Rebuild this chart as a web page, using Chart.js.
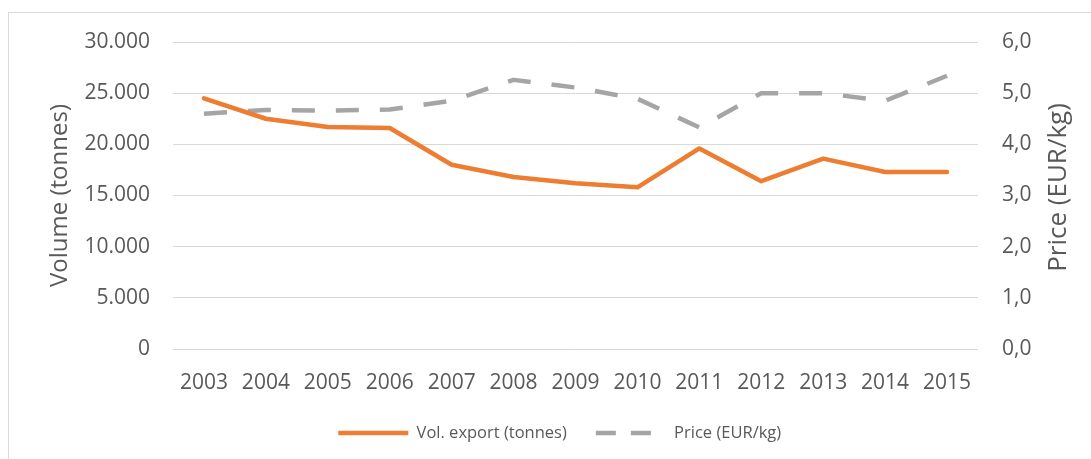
<!DOCTYPE html>
<html><head><meta charset="utf-8">
<script src="https://cdn.jsdelivr.net/npm/chart.js@4"></script>
<style>
html,body{margin:0;padding:0;background:#fff;overflow:hidden}
#wrap{position:relative;width:1091px;height:459px}
#frame{position:absolute;left:8px;top:12px;width:1200px;height:600px;border-left:1px solid #d9d9d9;border-top:1px solid #d9d9d9}
canvas{position:absolute;left:0;top:0}
</style></head><body>
<div id="wrap"><div id="frame"></div><canvas id="c" width="1091" height="459"></canvas></div>
<script>
const years = ['2003','2004','2005','2006','2007','2008','2009','2010','2011','2012','2013','2014','2015'];
const volumeExport = [24500, 22500, 21700, 21600, 18000, 16800, 16200, 15800, 19600, 16400, 18600, 17300, 17300];
const priceEurKg = [4.60, 4.67, 4.66, 4.68, 4.85, 5.26, 5.11, 4.89, 4.33, 5.00, 5.00, 4.85, 5.34];
const volumeTickLabels = ['0','5.000','10.000','15.000','20.000','25.000','30.000'];
const priceTickLabels = ['0,0','1,0','2,0','3,0','4,0','5,0','6,0'];
const seriesNames = ['Vol. export (tonnes)', 'Price (EUR/kg)'];
const axisTitles = ['Volume (tonnes)', 'Price (EUR/kg)'];

const TXT = '#595959';
const FONT = 'Open Sans';

// Right-axis title drawn reading bottom-to-top (as in the reference)
const rightTitle = {
  id: 'rightTitle',
  afterDraw(chart) {
    const s = chart.scales.y1, ctx = chart.ctx;
    ctx.save();
    ctx.translate(1059, (s.top + s.bottom) / 2 - 8);
    ctx.rotate(-Math.PI / 2);
    ctx.font = '26px "' + FONT + '"';
    ctx.fillStyle = TXT;
    ctx.textAlign = 'center';
    ctx.textBaseline = 'middle';
    ctx.fillText(axisTitles[1], 0, 0);
    ctx.restore();
  }
};

new Chart(document.getElementById('c'), {
  type: 'line',
  data: {
    labels: years,
    datasets: [
      {label: seriesNames[0], data: volumeExport, yAxisID: 'y', borderColor: '#ED7D31', backgroundColor: '#ED7D31',
       borderWidth: 4.5, pointRadius: 0, tension: 0, borderCapStyle: 'round', borderJoinStyle: 'round'},
      {label: seriesNames[1], data: priceEurKg, yAxisID: 'y1', borderColor: '#A5A5A5', backgroundColor: '#A5A5A5',
       borderWidth: 4.5, pointRadius: 0, tension: 0, borderDash: [23, 21], borderCapStyle: 'butt', borderJoinStyle: 'round'}
    ]
  },
  plugins: [rightTitle],
  options: {
    responsive: false,
    animation: false,
    devicePixelRatio: 1,
    layout: {padding: {left: 28.5, right: 0, top: 42, bottom: 7.75}},
    plugins: {
      tooltip: {enabled: false},
      legend: {
        position: 'bottom',
        labels: {
          usePointStyle: true,
          pointStyle: 'line',
          pointStyleWidth: 70,
          padding: 29,
          color: TXT,
          font: {family: FONT, size: 16.5},
          generateLabels(chart) {
            const items = Chart.defaults.plugins.legend.labels.generateLabels(chart);
            items.forEach((it, i) => {
              it.pointStyle = 'line';
              it.lineWidth = 4.5;
              it.lineDash = i === 1 ? [20, 15] : [];
              it.lineCap = 'butt';
              it.fontColor = TXT;
            });
            return items;
          }
        }
      }
    },
    scales: {
      x: {
        offset: true,
        grid: {display: false, drawTicks: false},
        border: {display: false},
        ticks: {color: TXT, font: {family: FONT, size: 21}, padding: 21.4, maxRotation: 0, autoSkip: false},
        afterFit(s) { s.height = 46.75; }
      },
      y: {
        position: 'left',
        min: 0, max: 30000,
        ticks: {stepSize: 5000, color: TXT, font: {family: FONT, size: 21}, padding: 23,
                callback: (v, i) => volumeTickLabels[i]},
        grid: {color: '#D9D9D9', lineWidth: 1, drawTicks: false},
        border: {display: false},
        title: {display: true, text: axisTitles[0], color: TXT, font: {family: FONT, size: 24}, padding: {top: 17.1, bottom: 0}},
        afterFit(s) { s.width = 144.5; }
      },
      y1: {
        position: 'right',
        min: 0, max: 6,
        ticks: {stepSize: 1, color: TXT, font: {family: FONT, size: 21}, padding: 24,
                callback: (v, i) => priceTickLabels[i]},
        grid: {display: false, drawTicks: false},
        border: {display: false},
        title: {display: false},
        afterFit(s) { s.width = 113; }
      }
    }
  }
});
</script>
</body></html>
